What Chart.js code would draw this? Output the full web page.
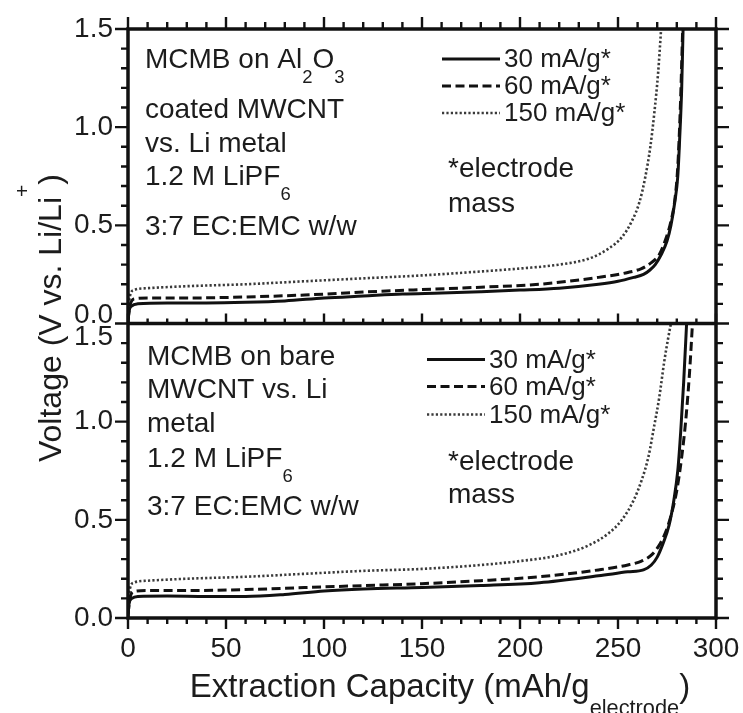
<!DOCTYPE html>
<html>
<head>
<meta charset="utf-8">
<title>MCMB extraction capacity vs. voltage</title>
<script src="https://cdn.jsdelivr.net/npm/chart.js@4.4.0/dist/chart.umd.min.js"></script>
<style>
  body { margin: 0; background: #fff; }
  #wrap { position: relative; width: 743px; height: 713px; }
</style>
</head>
<body>
<div id="wrap"><canvas id="chart" width="743" height="713"></canvas></div>
<script>
// --- data: capacity (mAh/g electrode) and voltage (V vs. Li/Li+) ---
// upper panel: MCMB on Al2O3 coated MWCNT
const capCoated30 = [0, 0.5, 2, 5, 20, 40, 60, 80, 100, 120, 140, 160, 180, 200, 220, 240, 250, 258, 263, 266, 269, 272, 275, 277, 279, 280.5, 281.5, 282.5, 283.2];
const voltCoated30 = [0.0, 0.06, 0.09, 0.10, 0.105, 0.105, 0.108, 0.115, 0.13, 0.14, 0.15, 0.155, 0.162, 0.17, 0.18, 0.2, 0.215, 0.235, 0.25, 0.27, 0.3, 0.35, 0.42, 0.5, 0.62, 0.75, 0.95, 1.2, 1.5];
const capCoated60 = [0, 1, 3, 10, 30, 60, 90, 120, 150, 180, 210, 240, 255, 262, 267, 271, 274, 277, 279, 280.5, 281.8, 283];
const voltCoated60 = [0.02, 0.09, 0.125, 0.13, 0.13, 0.135, 0.145, 0.16, 0.173, 0.185, 0.2, 0.235, 0.26, 0.28, 0.31, 0.35, 0.42, 0.52, 0.63, 0.8, 1.1, 1.5];
const capCoated150 = [0, 1, 3, 10, 30, 60, 90, 120, 150, 180, 200, 220, 235, 245, 252, 257, 261, 264, 266.5, 268.5, 270.5, 272];
const voltCoated150 = [0.05, 0.14, 0.17, 0.18, 0.19, 0.2, 0.215, 0.23, 0.245, 0.265, 0.28, 0.3, 0.33, 0.38, 0.44, 0.52, 0.62, 0.75, 0.9, 1.07, 1.28, 1.5];

// lower panel: MCMB on bare MWCNT
const capBare30 = [0, 0.5, 2, 5, 20, 40, 60, 80, 100, 120, 150, 180, 210, 240, 255, 263, 267, 270, 273, 276, 278.5, 280.5, 282, 283.5, 285];
const voltBare30 = [0.0, 0.07, 0.1, 0.11, 0.112, 0.11, 0.11, 0.12, 0.138, 0.148, 0.155, 0.165, 0.18, 0.215, 0.235, 0.245, 0.27, 0.31, 0.38, 0.47, 0.6, 0.75, 0.95, 1.2, 1.5];
const capBare60 = [0, 1, 3, 10, 30, 60, 90, 120, 150, 180, 210, 240, 255, 262, 267, 271, 274, 277, 280, 282.5, 284.5, 286.5, 288];
const voltBare60 = [0.02, 0.1, 0.135, 0.14, 0.14, 0.145, 0.155, 0.165, 0.175, 0.19, 0.21, 0.245, 0.27, 0.29, 0.32, 0.37, 0.43, 0.52, 0.65, 0.82, 1.0, 1.25, 1.5];
const capBare150 = [0, 1, 3, 10, 30, 60, 90, 120, 150, 180, 200, 220, 235, 245, 252, 258, 262, 265.5, 268.5, 271, 273.5, 275.5, 277];
const voltBare150 = [0.06, 0.15, 0.18, 0.19, 0.2, 0.21, 0.225, 0.24, 0.25, 0.27, 0.29, 0.32, 0.37, 0.43, 0.5, 0.6, 0.7, 0.82, 0.98, 1.12, 1.3, 1.42, 1.5];

const rateLabels = ['30 mA/g*', '60 mA/g*', '150 mA/g*'];
const xTickValues = [0, 50, 100, 150, 200, 250, 300];
const yTickValues = [0, 0.5, 1.0, 1.5];

// panel notes, each line is a list of [text, 'sub'|''] runs
const coatedNote = [
  [['MCMB on Al', ''], ['2', 'sub'], ['O', ''], ['3', 'sub']],
  [['coated MWCNT', '']],
  [['vs. Li metal', '']],
  [['1.2 M LiPF', ''], ['6', 'sub']],
  [['3:7 EC:EMC w/w', '']]
];
const bareNote = [
  [['MCMB on bare', '']],
  [['MWCNT vs. Li', '']],
  [['metal', '']],
  [['1.2 M LiPF', ''], ['6', 'sub']],
  [['3:7 EC:EMC w/w', '']]
];
const massNote = ['*electrode', 'mass'];

const FONT = "'Liberation Sans', Arial, Helvetica, sans-serif";
const INK = '#1c1c1c';

// line styles per rate: solid / dashed / dotted
const styles = [
  { borderColor: '#111', borderWidth: 3, borderDash: [] },
  { borderColor: '#111', borderWidth: 3, borderDash: [9, 4.5] },
  { borderColor: '#3a3a3a', borderWidth: 2.6, borderDash: [2.2, 2.2] }
];

function pts(xs, ys) {
  return xs.map((x, i) => ({ x: x, y: ys[i] }));
}

function series(label, xs, ys, style, axis) {
  return Object.assign({
    label: label,
    data: pts(xs, ys),
    yAxisID: axis,
    pointRadius: 0,
    fill: false,
    cubicInterpolationMode: 'monotone'
  }, style);
}

// draws one line of mixed normal / sub / sup text, returns its width
function richText(ctx, x, y, runs, size, measureOnly) {
  let cx = x;
  runs.forEach(([t, mode]) => {
    const s = mode ? size * 0.66 : size;
    ctx.font = s + 'px ' + FONT;
    let dy = 0;
    if (mode === 'sub') dy = size * 0.55;
    if (mode === 'sup') dy = -size * 1.0;
    if (!measureOnly) ctx.fillText(t, cx, y + dy);
    cx += ctx.measureText(t).width;
  });
  return cx - x;
}

const decorations = {
  id: 'decorations',
  afterDraw(chart) {
    const { ctx, chartArea: a, scales } = chart;
    const xs = scales.x, top = scales.yTop, bot = scales.yBot;
    const sep = top.bottom;
    ctx.save();
    ctx.strokeStyle = '#111';
    ctx.lineCap = 'butt';

    // tick marks
    ctx.lineWidth = 2.4;
    ctx.beginPath();
    for (let c = 0; c <= 300; c += 10) {
      const px = xs.getPixelForValue(c);
      const major = c % 50 === 0;
      ctx.moveTo(px, a.top); ctx.lineTo(px, a.top - (major ? 12 : 7));
      ctx.moveTo(px, sep); ctx.lineTo(px, sep - (major ? 10 : 5));
      ctx.moveTo(px, a.bottom); ctx.lineTo(px, a.bottom + (major ? 11 : 6));
    }
    [top, bot].forEach(s => {
      for (let i = 0; i <= 15; i++) {
        const py = s.getPixelForValue(i / 10);
        const major = i % 5 === 0;
        ctx.moveTo(a.left, py); ctx.lineTo(a.left - (major ? 13 : 7), py);
        ctx.moveTo(a.right, py); ctx.lineTo(a.right + (major ? 13 : 7), py);
      }
    });
    ctx.stroke();

    // frame and panel divider
    ctx.lineWidth = 3.5;
    ctx.strokeRect(a.left, a.top, a.right - a.left, a.bottom - a.top);
    ctx.beginPath();
    ctx.moveTo(a.left, sep); ctx.lineTo(a.right, sep);
    ctx.stroke();

    // y tick labels, nudged apart where the two panels meet
    ctx.fillStyle = INK;
    ctx.font = '28px ' + FONT;
    ctx.textAlign = 'right';
    ctx.textBaseline = 'middle';
    [top, bot].forEach(s => {
      yTickValues.forEach(v => {
        let py = s.getPixelForValue(v);
        if (v === s.min && s.bottom < a.bottom - 1) py -= 8;
        if (v === s.max && s.top > a.top + 1) py += 14;
        ctx.fillText(v.toFixed(1), a.left - 15, py);
      });
    });

    // y axis title, rotated
    ctx.save();
    ctx.translate(61, 318);
    ctx.rotate(-Math.PI / 2);
    ctx.textAlign = 'left';
    ctx.textBaseline = 'alphabetic';
    const yTitle = [['Voltage (V vs. Li/Li', ''], ['+', 'sup'], [')', '']];
    const yw = richText(ctx, 0, 0, yTitle, 32, true);
    richText(ctx, -yw / 2, 0, yTitle, 32);
    ctx.restore();

    // x axis title with subscript
    ctx.textAlign = 'left';
    ctx.textBaseline = 'alphabetic';
    const xTitle = [['Extraction Capacity (mAh/g', ''], ['electrode', 'sub'], [')', '']];
    const xw = richText(ctx, 0, 0, xTitle, 33, true);
    richText(ctx, 440 - xw / 2, 697, xTitle, 33);

    // panel notes and rate keys
    const panels = [
      { s: top, note: coatedNote, noteX: 145, noteY: [39, 89, 123, 156, 206],
        keyX: 442, keyY: [30, 57, 84], massY: [148, 183] },
      { s: bot, note: bareNote, noteX: 147, noteY: [41, 74, 108, 143, 191],
        keyX: 427, keyY: [36, 63, 91], massY: [146, 179] }
    ];
    panels.forEach(p => {
      const t0 = p.s.top;
      p.note.forEach((line, i) => richText(ctx, p.noteX, t0 + p.noteY[i], line, 28));
      rateLabels.forEach((lab, i) => {
        const st = styles[i];
        const ly = t0 + p.keyY[i];
        ctx.save();
        ctx.strokeStyle = st.borderColor;
        ctx.lineWidth = st.borderWidth;
        ctx.setLineDash(st.borderDash);
        ctx.beginPath();
        ctx.moveTo(p.keyX, ly); ctx.lineTo(p.keyX + 58, ly);
        ctx.stroke();
        ctx.restore();
        ctx.font = '26px ' + FONT;
        ctx.textBaseline = 'middle';
        ctx.fillText(lab, p.keyX + 62, ly + 1);
        ctx.textBaseline = 'alphabetic';
      });
      massNote.forEach((t, i) => {
        ctx.font = '28px ' + FONT;
        ctx.fillText(t, 448, t0 + p.massY[i]);
      });
    });
    ctx.restore();
  }
};

const yPanel = {
  type: 'linear',
  position: 'left',
  stack: 'volts',
  stackWeight: 1,
  min: 0,
  max: 1.5,
  ticks: { display: false },
  grid: { display: false, drawTicks: false },
  border: { display: false },
  afterFit: s => { s.width = 128; }
};

new Chart(document.getElementById('chart'), {
  type: 'line',
  data: {
    datasets: [
      series('30 coated', capCoated30, voltCoated30, styles[0], 'yTop'),
      series('60 coated', capCoated60, voltCoated60, styles[1], 'yTop'),
      series('150 coated', capCoated150, voltCoated150, styles[2], 'yTop'),
      series('30 bare', capBare30, voltBare30, styles[0], 'yBot'),
      series('60 bare', capBare60, voltBare60, styles[1], 'yBot'),
      series('150 bare', capBare150, voltBare150, styles[2], 'yBot')
    ]
  },
  options: {
    responsive: false,
    animation: false,
    layout: { padding: { top: 29, right: 27, bottom: 0, left: 0 } },
    plugins: { legend: { display: false }, tooltip: { enabled: false } },
    scales: {
      x: {
        type: 'linear',
        min: 0,
        max: 300,
        afterBuildTicks: s => { s.ticks = xTickValues.map(v => ({ value: v })); },
        ticks: { font: { size: 28, family: FONT }, color: INK, padding: 14, maxRotation: 0, autoSkip: false },
        grid: { display: false, drawTicks: false },
        border: { display: false },
        // labels may spill into the page margin; keep the plot edge fixed
        afterFit: s => { s.height = 95; s.paddingLeft = 0; s.paddingRight = 0; }
      },
      // later-defined left axis sits on top of the stack
      yBot: Object.assign({}, yPanel),
      yTop: Object.assign({}, yPanel)
    }
  },
  plugins: [decorations]
});
</script>
</body>
</html>
